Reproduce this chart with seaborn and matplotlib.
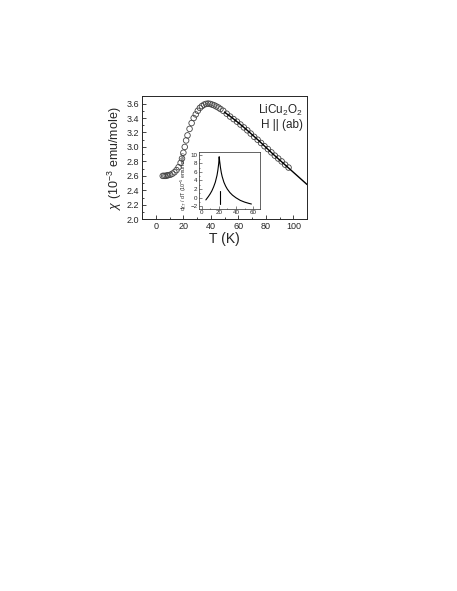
import numpy as np
import pandas as pd
import seaborn as sns
import matplotlib.pyplot as plt
from matplotlib.ticker import MultipleLocator, FormatStrFormatter

# main susceptibility data (open circles)
temp = [5, 6, 7, 8, 9, 10.5, 12, 13.5, 15, 16.5,
        18, 19, 20, 21, 22, 23, 24.5, 26, 27.5, 29,
        30.5, 32, 33.5, 35, 36.5, 38, 39.5, 41, 42.5, 44,
        45.5, 47, 49, 51.5, 54, 56.5, 59, 61.5, 64, 66.5,
        69, 71.5, 74, 76.5, 79, 81.5, 84, 86.5, 89, 91.5,
        94, 96.5]
chi = [2.60, 2.60, 2.60, 2.605, 2.61, 2.615, 2.63, 2.65, 2.68, 2.72,
       2.78, 2.84, 2.92, 3.00, 3.09, 3.16, 3.25, 3.33, 3.40, 3.45,
       3.50, 3.54, 3.565, 3.585, 3.595, 3.60, 3.595, 3.585, 3.575, 3.56,
       3.545, 3.525, 3.50, 3.46, 3.42, 3.385, 3.35, 3.31, 3.27, 3.23,
       3.185, 3.14, 3.10, 3.055, 3.01, 2.97, 2.925, 2.88, 2.84, 2.80,
       2.755, 2.715]

# fit line
fit_t = [50, 55, 60, 65, 70, 75, 80, 85, 90, 95, 100, 105, 110]
fit_chi = [3.48, 3.41, 3.335, 3.255, 3.17, 3.085, 2.995, 2.905, 2.82, 2.735, 2.65, 2.565, 2.48]

# inset: derivative
ins_t = [5, 8, 10, 12, 14, 16, 18, 19, 20, 20.5, 21, 22, 23, 24, 26, 28, 30,
         33, 36, 40, 45, 50, 55, 58]
ins_val = [-0.5, 0.3, 0.9, 1.6, 2.5, 3.6, 5.2, 6.4, 8.0, 9.5, 8.6, 7.0, 5.8,
           4.9, 3.6, 2.7, 2.0, 1.2, 0.6, 0.0, -0.6, -1.0, -1.3, -1.45]
mark_t = [21, 21]
mark_val = [-1.5, 1.5]

sns.set_theme(style="ticks")
plt.rcParams['font.family'] = ['Liberation Sans', 'DejaVu Sans']
plt.rcParams['mathtext.fontset'] = 'custom'
plt.rcParams['mathtext.rm'] = 'Liberation Sans'
plt.rcParams['mathtext.it'] = 'Liberation Sans:italic'

fig = plt.figure(figsize=(4.57, 5.91), dpi=100)
ax = fig.add_axes([0.311, 0.629, 0.361, 0.208])

main_df = pd.DataFrame({'T': temp, 'chi': chi})
fit_df = pd.DataFrame({'T': fit_t, 'chi': fit_chi})
sns.scatterplot(data=main_df, x='T', y='chi', ax=ax, s=16, marker='o',
                facecolor='none', edgecolor='#444444', linewidth=0.6)
sns.lineplot(data=fit_df, x='T', y='chi', ax=ax, color='black', lw=1.0)

ax.set_xlim(-10, 110)
ax.set_ylim(2.0, 3.7)
ax.xaxis.set_major_locator(MultipleLocator(20))
ax.xaxis.set_minor_locator(MultipleLocator(10))
ax.yaxis.set_major_locator(MultipleLocator(0.2))
ax.yaxis.set_minor_locator(MultipleLocator(0.1))
ax.yaxis.set_major_formatter(FormatStrFormatter('%.1f'))
ax.tick_params(which='both', direction='in', labelsize=6.5, width=0.6, pad=2)
ax.tick_params(which='major', length=3)
ax.tick_params(which='minor', length=1.5)
for sp in ax.spines.values():
    sp.set_linewidth(0.7)
ax.set_xlabel('T (K)', fontsize=10, labelpad=1)
ax.set_ylabel(r'$\mathit{\chi}$ (10$^{-3}$ emu/mole)', fontsize=9, labelpad=2)
ax.text(0.975, 0.945, 'LiCu$_2$O$_2$\nH || (ab)', transform=ax.transAxes,
        ha='right', va='top', fontsize=8.5, linespacing=1.05)

# inset
ins = fig.add_axes([0.4354, 0.6464, 0.1335, 0.0964])
ins_df = pd.DataFrame({'T': ins_t, 'd': ins_val})
sns.lineplot(data=ins_df, x='T', y='d', ax=ins, color='black', lw=0.8)
ins.plot(mark_t, mark_val, color='black', lw=0.8)
ins.set_xlim(-3, 68)
ins.set_ylim(-2.6, 10.6)
ins.xaxis.set_major_locator(MultipleLocator(20))
ins.xaxis.set_minor_locator(MultipleLocator(10))
ins.yaxis.set_major_locator(MultipleLocator(2))
ins.yaxis.set_minor_locator(MultipleLocator(1))
ins.tick_params(which='both', direction='in', labelsize=4.5, width=0.4, pad=1)
ins.tick_params(which='major', length=2)
ins.tick_params(which='minor', length=1)
for sp in ins.spines.values():
    sp.set_linewidth(0.5)
ins.set_xlabel('')
ins.set_ylabel(r'd$\mathit{\chi}_T$ / dT (10$^{-5}$ emu/mole)', fontsize=3.8, labelpad=1)

fig.savefig('out.png', dpi=100)
